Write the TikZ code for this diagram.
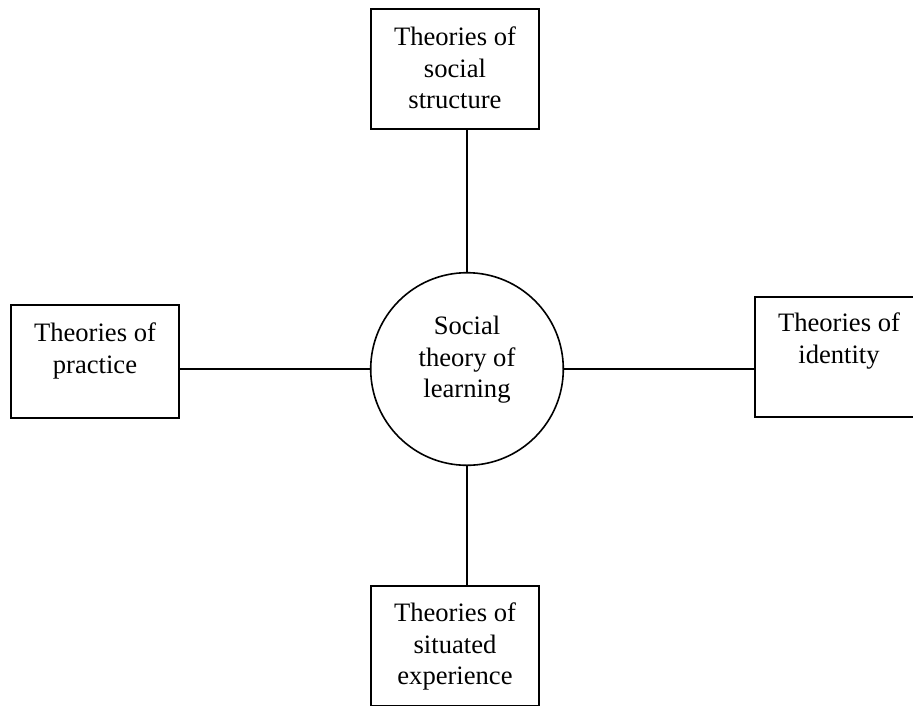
\documentclass[tikz,border=0pt]{standalone}
\usepackage{fontspec}
\setmainfont{Liberation Serif}
\begin{document}
\begin{tikzpicture}[x=1pt,y=1pt,
  box/.style={draw, line width=1.6pt, rectangle, inner sep=0pt, minimum width=168pt},
  hub/.style={draw, line width=1.6pt, circle, inner sep=0pt, minimum size=192.6pt},
  txt/.style={inner sep=0pt, anchor=north, align=center, font=\fontsize{26.6}{31.5}\selectfont},
  link/.style={line width=1.6pt}]
\useasboundingbox (0,0) rectangle (913,-705);
\clip (0,0) rectangle (913,-705);
\node[hub] (C) at (467,-369) {};
\node[box, minimum height=120pt] (T) at (455,-69) {};
\node[box, minimum height=113pt] (L) at (95,-361.5) {};
\node[box, minimum height=120pt] (R) at (839,-357) {};
\node[box, minimum height=120pt] (B) at (455,-646) {};
\node[txt] (tC) at (467,-316) {Social\\theory of\\learning};
\node[txt] (tT) at (455,-27) {Theories of\\social\\structure};
\node[txt] (tL) at (95,-323) {Theories of\\practice};
\node[txt] (tR) at (839,-313) {Theories of\\identity};
\node[txt] (tB) at (455,-603) {Theories of\\situated\\experience};
\draw[link] (C.north) -- (T.south -| C.north);
\draw[link] (C.south) -- (B.north -| C.south);
\draw[link] (C.west) -- (C.west -| L.east);
\draw[link] (C.east) -- (C.east -| R.west);
\end{tikzpicture}
\end{document}
